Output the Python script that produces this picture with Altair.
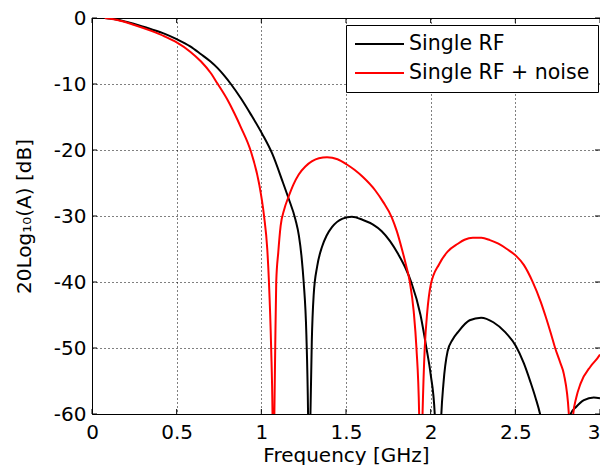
import altair as alt
import pandas as pd

# ---- data ----
freq_rf = [0.075, 0.15, 0.25, 0.35, 0.43, 0.5, 0.58, 0.644, 0.70, 0.742, 0.78, 0.82, 0.88,
           0.938, 1.006, 1.065, 1.123, 1.159, 1.202, 1.222, 1.238, 1.25, 1.266, 1.276, 1.282,
           1.29, 1.298, 1.309, 1.33, 1.358, 1.385, 1.417, 1.48, 1.535, 1.60, 1.66, 1.711,
           1.76, 1.809, 1.85, 1.885, 1.94, 1.975, 2.0, 2.024, 2.045, 2.063, 2.075, 2.10,
           2.13, 2.161, 2.23, 2.298, 2.37, 2.44, 2.503, 2.55, 2.59, 2.62, 2.646, 2.73,
           2.826, 2.86, 2.905, 2.963, 3.0]
db_rf = [0, -0.25, -0.9, -1.7, -2.4, -3.2, -4.3, -5.5, -6.6, -7.6, -8.7, -10, -12.2,
         -14.6, -17.6, -20.6, -24.6, -27.2, -30.6, -33, -36.3, -40, -48, -60, -75,
         -60, -49, -42, -37.6, -34.7, -33, -31.7, -30.4, -30.1, -30.6, -31.3, -32.3,
         -33.8, -35.8, -37.8, -40, -45, -50, -54, -60, -75, -60, -55.5, -50.5,
         -48.7, -47.6, -45.8, -45.4, -46.1, -47.6, -49.7, -52.3, -55.2, -57.6, -60, -75,
         -60, -58.9, -57.9, -57.5, -57.6]

freq_noise = [0.075, 0.15, 0.25, 0.35, 0.43, 0.5, 0.58, 0.644, 0.70, 0.74, 0.80, 0.84, 0.88,
              0.938, 0.986, 1.016, 1.035, 1.045, 1.058, 1.066, 1.071, 1.077, 1.082, 1.088,
              1.10, 1.114, 1.135, 1.159, 1.19, 1.221, 1.26, 1.30, 1.34, 1.388, 1.45, 1.505,
              1.55, 1.60, 1.672, 1.72, 1.77, 1.80, 1.83, 1.855, 1.877, 1.90, 1.916, 1.932,
              1.94, 1.952, 1.965, 1.98, 2.0, 2.05, 2.10, 2.161, 2.2, 2.249, 2.30, 2.35, 2.40,
              2.45, 2.503, 2.55, 2.601, 2.65, 2.68, 2.71, 2.735, 2.765, 2.787, 2.816, 2.83,
              2.842, 2.86, 2.885, 2.944, 2.983, 3.0]
db_noise = [0, -0.3, -1.05, -1.95, -2.8, -3.7, -5.1, -6.6, -8.3, -9.9, -12.4, -14.4, -16.6,
            -20.2, -25, -30, -35, -40, -50, -60, -75, -60, -50, -40,
            -35.5, -31.5, -29, -27.2, -25.2, -23.7, -22.5, -21.7, -21.25, -21.1, -21.4, -22.2,
            -23.0, -24.1, -26.1, -27.9, -30.2, -32.3, -35, -37.5, -40, -44.5, -50, -60,
            -75, -60, -50, -44.5, -40.5, -37.3, -35.4, -34.2, -33.6, -33.3, -33.3, -33.65, -34.2,
            -35.0, -36.0, -37.4, -39.9, -43.0, -45.3, -47.8, -50, -52.2, -54, -60, -75,
            -60, -57.5, -55.4, -52.8, -51.6, -51.0]

series_names = ["Single RF", "Single RF + noise"]
series_colors = ["#000000", "#ff0000"]
x_ticks = [0, 0.5, 1, 1.5, 2, 2.5, 3]
y_ticks = [0, -10, -20, -30, -40, -50, -60]

# ---- build tables ----
df = pd.concat([
    pd.DataFrame({"f": freq_rf, "db": db_rf, "series": series_names[0], "o": range(len(freq_rf))}),
    pd.DataFrame({"f": freq_noise, "db": db_noise, "series": series_names[1], "o": range(len(freq_noise))}),
], ignore_index=True)

W, H = 508, 396
x_min, x_max = x_ticks[0], x_ticks[-1]
y_min, y_max = y_ticks[-1], y_ticks[0]
tick_px = 5
tx = tick_px * (x_max - x_min) / W
ty = tick_px * (y_max - y_min) / H
rows = []
for v in x_ticks:
    rows.append({"x": v, "x2": v, "y": y_min, "y2": y_min + ty})
    rows.append({"x": v, "x2": v, "y": y_max, "y2": y_max - ty})
for v in y_ticks:
    rows.append({"x": x_min, "x2": x_min + tx, "y": v, "y2": v})
    rows.append({"x": x_max, "x2": x_max - tx, "y": v, "y2": v})
ticks_df = pd.DataFrame(rows)

FONT = "DejaVu Sans"
x_scale = alt.Scale(domain=[x_min, x_max], nice=False, zero=False)
y_scale = alt.Scale(domain=[y_min, y_max], nice=False, zero=False)

x_axis = alt.Axis(values=x_ticks, labelExpr="'' + datum.value", title="Frequency [GHz]",
                  grid=True, gridDash=[1, 3], gridColor="#000000", gridWidth=1,
                  ticks=False, tickSize=0, domain=False, labelPadding=8,
                  labelAlign={"condition": {"test": "datum.value == %s" % x_max, "value": "right"},
                              "value": "center"},
                  labelFont=FONT, labelFontSize=20, labelColor="black", labelFlush=False,
                  titleFont=FONT, titleFontSize=20, titleFontWeight="normal", titleColor="black",
                  titleX=254, titleY=47, titleAlign="center", titleBaseline="alphabetic")
y_axis = alt.Axis(values=y_ticks, labelExpr="'' + datum.value", title="20Log\u2081\u2080(A) [dB]",
                  grid=True, gridDash=[1, 3], gridColor="#000000", gridWidth=1,
                  ticks=False, tickSize=0, domain=False, labelPadding=6,
                  labelFont=FONT, labelFontSize=20, labelColor="black", labelFlush=False,
                  titleFont=FONT, titleFontSize=20, titleFontWeight="normal", titleColor="black",
                  titleX=-68, titleY=H / 2, titleAngle=270, titleAlign="center", titleBaseline="middle")

legend = alt.Legend(orient="none", legendX=254, legendY=7, title=None,
                    strokeColor="black", fillColor="white", padding=8, cornerRadius=0,
                    symbolType="stroke", symbolSize=2401, symbolStrokeWidth=2,
                    clipHeight=22, rowPadding=7, labelOffset=4,
                    labelFont=FONT, labelFontSize=20.5, labelColor="black", labelLimit=400)

lines = alt.Chart(df).mark_line(clip=True, strokeWidth=2, interpolate="monotone").encode(
    x=alt.X("f:Q", scale=x_scale, axis=x_axis),
    y=alt.Y("db:Q", scale=y_scale, axis=y_axis),
    color=alt.Color("series:N", scale=alt.Scale(domain=series_names, range=series_colors), legend=legend),
    order="o:Q",
)

tick_marks = alt.Chart(ticks_df).mark_rule(color="black", strokeWidth=1).encode(
    x=alt.X("x:Q", scale=x_scale),
    x2="x2:Q",
    y=alt.Y("y:Q", scale=y_scale),
    y2="y2:Q",
)

chart = alt.layer(tick_marks, lines).properties(
    width=W, height=H,
    padding={"left": 84, "top": 10, "right": 0, "bottom": 51},
    autosize=alt.AutoSizeParams(type="none"),
    background="white",
).configure_view(stroke="black", strokeWidth=1)

chart.save("out.html", embed_options={"renderer": "svg", "actions": False})
